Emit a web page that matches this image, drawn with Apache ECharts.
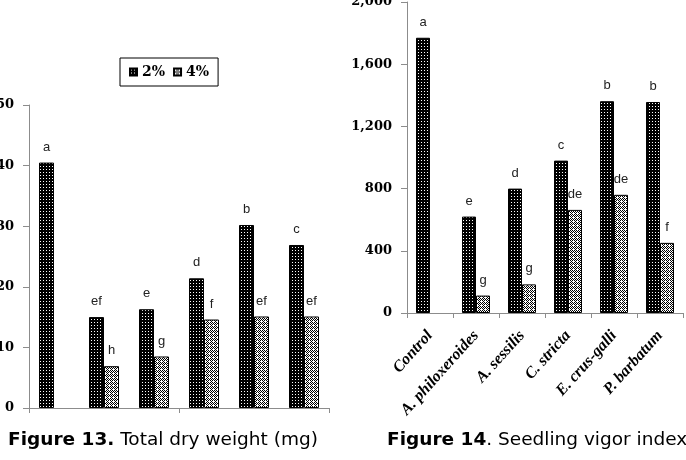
<!DOCTYPE html>
<html>
<head>
<meta charset="utf-8">
<script src="https://cdn.jsdelivr.net/npm/echarts@6/dist/echarts.min.js"></script>
<style>html,body{margin:0;padding:0;background:#fff;}#c{width:686px;height:460px;}</style>
</head>
<body>
<div id="c"></div>
<script>
// ---- data ----
var categories = ['Control', 'A. philoxeroides', 'A. sessilis', 'C. stricta', 'E. crus-galli', 'P. barbatum'];
var seriesNames = ['2%', '4%'];
// Figure 13: total dry weight (mg)
var dryWeight2 = [40.5, 15.0, 16.3, 21.4, 30.2, 26.9];
var dryWeight4 = [null, 6.9, 8.5, 14.6, 15.1, 15.1];
var dryLetters2 = ['a', 'ef', 'e', 'd', 'b', 'c'];
var dryLetters4 = ['', 'h', 'g', 'f', 'ef', 'ef'];
var dryTicks = [0, 10, 20, 30, 40, 50];
// Figure 14: seedling vigor index
var vigor2 = [1770, 620, 800, 980, 1362, 1357];
var vigor4 = [null, 112, 184, 663, 760, 451];
var vigorLetters2 = ['a', 'e', 'd', 'c', 'b', 'b'];
var vigorLetters4 = ['', 'g', 'g', 'de', 'de', 'f'];
var vigorTicks = [0, 400, 800, 1200, 1600, 2000];
var captionLeftBold = 'Figure 13.';
var captionLeftText = ' Total dry weight (mg)';
var captionRightBold = 'Figure 14';
var captionRightText = '. Seedling vigor index';

// ---- patterns ----
function makePattern(size, bg, fg, cells) {
  var c = document.createElement('canvas');
  c.width = size; c.height = size;
  var ctx = c.getContext('2d');
  ctx.fillStyle = bg; ctx.fillRect(0, 0, size, size);
  ctx.fillStyle = fg;
  cells.forEach(function (p) { ctx.fillRect(p[0], p[1], 1, 1); });
  return { image: c, repeat: 'repeat' };
}
var pat2 = makePattern(3, '#000', '#fff', [[1, 1]]);
var pat4 = makePattern(4, '#fff', '#000', [[0,0],[2,0],[3,1],[0,2],[1,3],[3,3],[2,2]]);

var chart = echarts.init(document.getElementById('c'), null, { renderer: 'canvas' });

var serifLabel = { fontFamily: 'DejaVu Serif', fontWeight: 'bold', fontSize: 13, color: '#000' };
var axisGray = '#8c8c8c';

function letterLabel(letters) {
  return {
    show: true, position: 'top', distance: 9,
    fontFamily: 'Liberation Sans', fontSize: 13, color: '#222',
    formatter: function (p) { return letters[p.dataIndex] || ''; }
  };
}

function yAxis(gridIndex, interval, ticks, fmt) {
  return {
    type: 'value', gridIndex: gridIndex, min: ticks[0], max: ticks[ticks.length - 1], interval: interval,
    axisLine: { show: true, lineStyle: { color: axisGray, width: 1 } },
    axisTick: { show: true, length: 6, lineStyle: { color: axisGray } },
    splitLine: { show: false },
    axisLabel: Object.assign({ margin: 15, formatter: fmt }, serifLabel)
  };
}

var option = {
  animation: false,
  backgroundColor: '#fff',
  legend: {
    data: seriesNames,
    left: 120, top: 58,
    padding: [7, 9],
    borderColor: '#000', borderWidth: 1,
    itemWidth: 7, itemHeight: 7, itemGap: 8,
    icon: 'rect',
    textStyle: { fontFamily: 'DejaVu Serif', fontWeight: 'bold', fontSize: 14, color: '#000' }
  },
  grid: [
    { left: 29, top: 105, width: 300, height: 303, containLabel: false, outerBoundsMode: 'none' },
    { left: 407, top: 2, width: 276, height: 311, containLabel: false, outerBoundsMode: 'none' }
  ],
  xAxis: [
    {
      type: 'category', gridIndex: 0, data: categories,
      axisLine: { lineStyle: { color: axisGray } },
      axisTick: { show: true, length: 5, lineStyle: { color: axisGray } },
      axisLabel: { show: false }
    },
    {
      type: 'category', gridIndex: 1, data: categories,
      axisLine: { lineStyle: { color: axisGray } },
      axisTick: { show: true, length: 5, lineStyle: { color: axisGray } },
      axisLabel: {
        interval: 0, rotate: 48, margin: 20,
        fontFamily: 'Liberation Serif', fontStyle: 'italic', fontWeight: 'bold', fontSize: 16, color: '#000'
      }
    }
  ],
  yAxis: [
    yAxis(0, 10, dryTicks, function (v) { return String(v); }),
    yAxis(1, 400, vigorTicks, function (v) { return v.toLocaleString('en-US'); })
  ],
  series: [
    {
      name: seriesNames[0], type: 'bar', xAxisIndex: 0, yAxisIndex: 0,
      data: dryWeight2, barWidth: 15, barGap: '0%',
      itemStyle: { color: pat2, borderColor: '#000', borderWidth: 1 },
      label: letterLabel(dryLetters2)
    },
    {
      name: seriesNames[1], type: 'bar', xAxisIndex: 0, yAxisIndex: 0,
      data: dryWeight4, barWidth: 15, barGap: '0%',
      itemStyle: { color: pat4, borderColor: '#000', borderWidth: 1 },
      label: letterLabel(dryLetters4)
    },
    {
      name: seriesNames[0], type: 'bar', xAxisIndex: 1, yAxisIndex: 1,
      data: vigor2, barWidth: 14, barGap: '0%',
      itemStyle: { color: pat2, borderColor: '#000', borderWidth: 1 },
      label: letterLabel(vigorLetters2)
    },
    {
      name: seriesNames[1], type: 'bar', xAxisIndex: 1, yAxisIndex: 1,
      data: vigor4, barWidth: 14, barGap: '0%',
      itemStyle: { color: pat4, borderColor: '#000', borderWidth: 1 },
      label: letterLabel(vigorLetters4)
    }
  ],
  graphic: [
    {
      type: 'text', left: 8, top: 431,
      style: {
        text: '{b|' + captionLeftBold + '}' + captionLeftText,
        fontFamily: 'DejaVu Sans', fontSize: 18.5, fill: '#000',
        rich: { b: { fontFamily: 'DejaVu Sans', fontWeight: 'bold', fontSize: 18.5, fill: '#000' } }
      }
    },
    {
      type: 'text', left: 387, top: 431,
      style: {
        text: '{b|' + captionRightBold + '}' + captionRightText,
        fontFamily: 'DejaVu Sans', fontSize: 18.5, fill: '#000',
        rich: { b: { fontFamily: 'DejaVu Sans', fontWeight: 'bold', fontSize: 18.5, fill: '#000' } }
      }
    }
  ]
};
chart.setOption(option);
</script>
</body>
</html>
